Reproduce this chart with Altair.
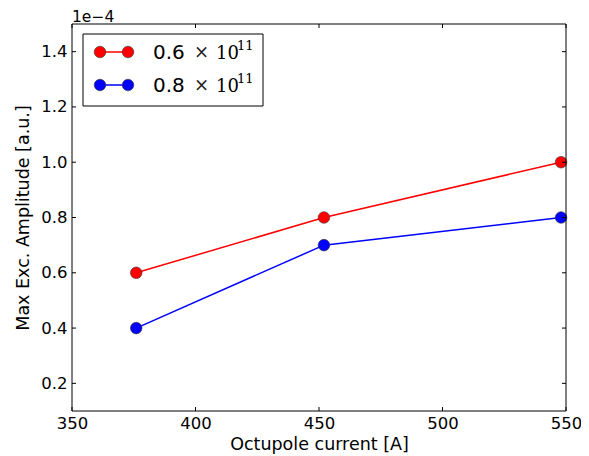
import altair as alt
import pandas as pd

# Data (amplitude in units of 1e-4)
currents = [376, 452, 548]
amp_06 = [0.6, 0.8, 1.0]
amp_08 = [0.4, 0.7, 0.8]
series_names = ["0.6", "0.8"]
series_colors = ["#ff0000", "#0000ff"]
x_ticks = [350, 400, 450, 500, 550]
y_ticks = [0.2, 0.4, 0.6, 0.8, 1.0, 1.2, 1.4]

W, H = 494, 387
FONT = "DejaVu Sans"
FS = 16.5
TFS = 17.5

df = pd.DataFrame({
    "current": currents * 2,
    "amp": amp_06 + amp_08,
    "series": [series_names[0]] * 3 + [series_names[1]] * 3,
})

xs = alt.Scale(domain=[350, 550], nice=False, zero=False)
ys = alt.Scale(domain=[0.1, 1.5], nice=False, zero=False)
cs = alt.Scale(domain=series_names, range=series_colors)

base = alt.Chart(df).encode(
    x=alt.X("current:Q", scale=xs, title="Octupole current [A]",
            axis=alt.Axis(values=x_ticks, ticks=False, domain=False, grid=False,
                          labelFont=FONT, labelFontSize=FS, labelColor="black",
                          labelPadding=4, titleFont=FONT, titleFontSize=TFS,
                          titleFontWeight="normal", titleColor="black", titlePadding=4,
                          labelFlush=False)),
    y=alt.Y("amp:Q", scale=ys, title="Max Exc. Amplitude [a.u.]",
            axis=alt.Axis(values=y_ticks, format=".1f", ticks=False, domain=False, grid=False,
                          labelFont=FONT, labelFontSize=FS, labelColor="black",
                          labelPadding=5, titleFont=FONT, titleFontSize=TFS,
                          titleFontWeight="normal", titleColor="black", titlePadding=8,
                          labelFlush=False)),
    color=alt.Color("series:N", scale=cs, legend=None),
)

lines = base.mark_line(strokeWidth=1.5)
points = base.mark_point(filled=True, size=135, opacity=1, stroke="#333333", strokeWidth=0.6)

# inward ticks on all four sides
xt = pd.DataFrame({"t": x_ticks})
yt = pd.DataFrame({"t": y_ticks})
tick_style = dict(color="black", strokeWidth=1)
xb = alt.Chart(xt).mark_rule(**tick_style).encode(x=alt.X("t:Q", scale=xs), y=alt.value(H - 4), y2=alt.value(H))
xtp = alt.Chart(xt).mark_rule(**tick_style).encode(x=alt.X("t:Q", scale=xs), y=alt.value(0), y2=alt.value(4))
yl = alt.Chart(yt).mark_rule(**tick_style).encode(y=alt.Y("t:Q", scale=ys), x=alt.value(0), x2=alt.value(4))
yr = alt.Chart(yt).mark_rule(**tick_style).encode(y=alt.Y("t:Q", scale=ys), x=alt.value(W - 4), x2=alt.value(W))

one = pd.DataFrame({"k": [0]})

offset_text = alt.Chart(one).mark_text(text="1e\u22124", font=FONT, fontSize=15.5, align="left",
                                       baseline="alphabetic", color="black").encode(
    x=alt.value(0), y=alt.value(-2))

# frame
frame = alt.Chart(one).mark_rect(fill=None, stroke="black", strokeWidth=1).encode(
    x=alt.value(0), x2=alt.value(W), y=alt.value(0), y2=alt.value(H))

# Legend
legend_layers = [
    alt.Chart(one).mark_rect(fill="white", stroke="black", strokeWidth=1).encode(
        x=alt.value(11), x2=alt.value(191), y=alt.value(10), y2=alt.value(82))
]
for i, (name, col) in enumerate(zip(series_names, series_colors)):
    yy = 28 + i * 33
    legend_layers.append(alt.Chart(one).mark_rule(color=col, strokeWidth=1.5).encode(
        x=alt.value(28), x2=alt.value(56), y=alt.value(yy)))
    for xx in (28, 56):
        legend_layers.append(alt.Chart(one).mark_point(filled=True, size=135, opacity=1, color=col,
                                                       stroke="#333333", strokeWidth=0.6).encode(
            x=alt.value(xx), y=alt.value(yy)))
    legend_layers.append(alt.Chart(one).mark_text(text=name, font=FONT, fontSize=20, align="left",
                                                  baseline="alphabetic", color="black").encode(
        x=alt.value(81), y=alt.value(yy + 7)))
    legend_layers.append(alt.Chart(one).mark_text(text="\u00d7", font="DejaVu Serif", fontSize=18,
                                                  align="left", baseline="alphabetic", color="#222222").encode(
        x=alt.value(122), y=alt.value(yy + 6)))
    legend_layers.append(alt.Chart(one).mark_text(text="10", font="DejaVu Serif", fontSize=18,
                                                  align="left", baseline="alphabetic", color="black").encode(
        x=alt.value(144), y=alt.value(yy + 7)))
    legend_layers.append(alt.Chart(one).mark_text(text="11", font="DejaVu Serif", fontSize=13,
                                                  align="left", baseline="alphabetic", color="black").encode(
        x=alt.value(165), y=alt.value(yy - 2)))

chart = alt.layer(lines, points, xb, xtp, yl, yr, frame, offset_text, *legend_layers).properties(
    width=W, height=H,
    autosize=alt.AutoSizeParams(type="none"),
    padding={"left": 64, "top": 16, "right": 15, "bottom": 45},
).configure(background="white").configure_view(stroke=None)

chart.save("out.html", embed_options={"renderer": "svg", "actions": False})
